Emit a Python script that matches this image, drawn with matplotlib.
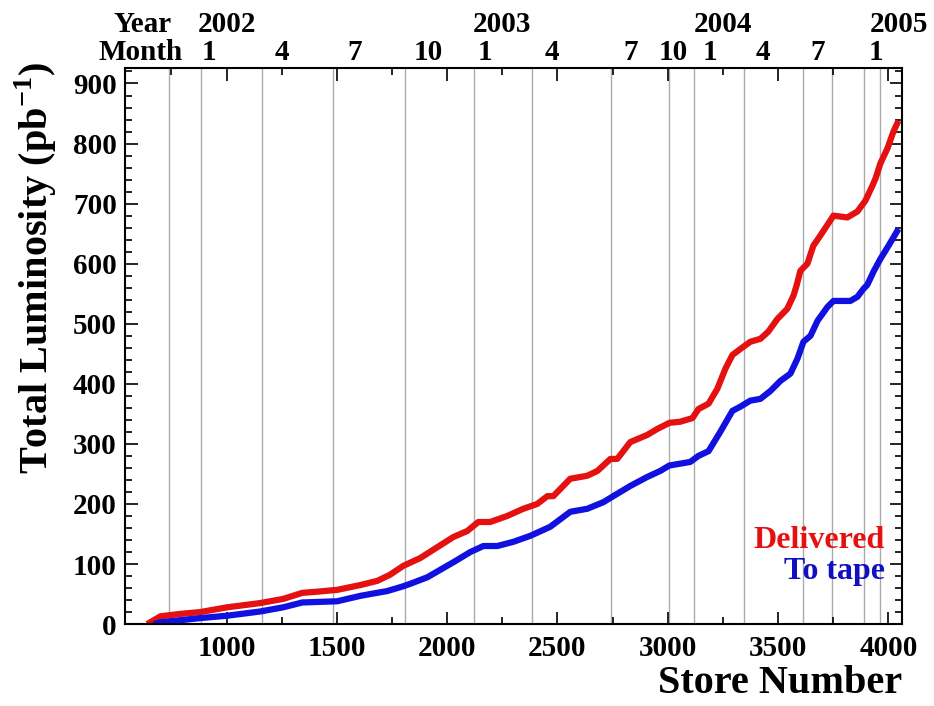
import numpy as np
import matplotlib.pyplot as plt
from matplotlib.transforms import blended_transform_factory
from matplotlib.ticker import MultipleLocator

plt.rcParams['font.family'] = ['Liberation Serif', 'DejaVu Serif']
plt.rcParams['font.weight'] = 'bold'
plt.rcParams['mathtext.fontset'] = 'custom'
plt.rcParams['mathtext.bf'] = 'Liberation Serif:bold'
plt.rcParams['mathtext.rm'] = 'Liberation Serif:bold'

# delivered luminosity
store_del = [640, 700, 790, 880, 1003, 1152, 1257, 1343, 1411, 1501, 1606, 1683, 1740, 1801,
             1878, 1955, 2028, 2091, 2141, 2195, 2272, 2345, 2408, 2454, 2481, 2558, 2635,
             2681, 2740, 2771, 2830, 2907, 2953, 3007, 3057, 3112, 3139, 3185, 3225, 3261,
             3293, 3329, 3374, 3420, 3456, 3497, 3542, 3570, 3585, 3601, 3633, 3660, 3692,
             3728, 3751, 3814, 3860, 3896, 3928, 3942, 3964, 3996, 4023, 4046]
lumi_del = [0, 13, 17, 20, 28, 35, 42, 52, 54, 57, 65, 72, 82, 97,
            110, 128, 145, 155, 170, 170, 180, 192, 200, 213, 213, 242, 247,
            255, 275, 275, 303, 315, 325, 335, 337, 343, 358, 367, 392, 425,
            448, 458, 470, 475, 487, 508, 525, 547, 565, 588, 600, 630, 647,
            667, 680, 677, 687, 705, 730, 742, 767, 792, 820, 838]

# luminosity to tape
store_tape = [670, 700, 880, 1003, 1152, 1257, 1343, 1501, 1606, 1651, 1728, 1801, 1832, 1910,
              2028, 2105, 2164, 2227, 2300, 2377, 2467, 2558, 2635, 2708, 2753, 2830, 2907,
              2966, 3007, 3102, 3139, 3185, 3238, 3293, 3329, 3374, 3420, 3465, 3511, 3556,
              3588, 3615, 3647, 3679, 3724, 3751, 3828, 3860, 3887, 3905, 3933, 3964, 4001, 4046]
lumi_tape = [0, 3, 10, 14, 21, 28, 36, 38, 47, 50, 55, 63, 67, 78,
             103, 120, 130, 130, 137, 147, 162, 187, 192, 203, 213, 230, 245,
             255, 264, 270, 280, 288, 320, 355, 362, 372, 375, 388, 405, 417,
             442, 470, 480, 505, 528, 538, 538, 545, 558, 565, 587, 608, 630, 658]

# grid lines and calendar labels on top
grid_stores = [740, 885, 1161, 1483, 1810, 2123, 2386, 2744, 3007, 3120, 3347, 3615, 3746, 3891, 3964]
month_pos = [922, 1252, 1579, 1914, 2173, 2476, 2830, 3025, 3193, 3433, 3678, 3946]
month_lab = ['1', '4', '7', '10', '1', '4', '7', '10', '1', '4', '7', '1']
year_pos = [1003, 2250, 3252, 4049]
year_lab = ['2002', '2003', '2004', '2005']

fig = plt.figure(figsize=(9.34, 7.06), dpi=100)
ax = fig.add_axes([0.134, 0.116, 0.832, 0.787])

for g in grid_stores:
    ax.axvline(g, color='#aaaaaa', lw=1, zorder=0)

ax.plot(store_del, lumi_del, color='#e51010', lw=4.5, solid_capstyle='butt')
ax.plot(store_tape, lumi_tape, color='#1010e0', lw=4.5, solid_capstyle='butt')

ax.set_xlim(540, 4063)
ax.set_ylim(0, 925)
ax.xaxis.set_major_locator(MultipleLocator(500))
ax.xaxis.set_minor_locator(MultipleLocator(250))
ax.yaxis.set_major_locator(MultipleLocator(100))
ax.yaxis.set_minor_locator(MultipleLocator(20))
ax.tick_params(which='both', direction='in', top=True, right=True, labelsize=21, width=1.2)
ax.tick_params(which='major', length=9)
ax.tick_params(which='minor', length=5)
ax.tick_params(axis='x', pad=8)
ax.tick_params(axis='y', pad=6)
ax.set_xticks([1000, 1500, 2000, 2500, 3000, 3500, 4000])
for sp in ax.spines.values():
    sp.set_linewidth(1.5)

tr = blended_transform_factory(ax.transData, fig.transFigure)
for p, l in zip(month_pos, month_lab):
    ax.text(p, 0.926, l, transform=tr, ha='center', va='center', fontsize=21)
for p, l in zip(year_pos, year_lab):
    ax.text(p, 0.966, l, transform=tr, ha='center', va='center', fontsize=21)
fig.text(0.184, 0.966, 'Year', ha='right', va='center', fontsize=21)
fig.text(0.196, 0.926, 'Month', ha='right', va='center', fontsize=21)

fig.text(0.038, 0.62, 'Total Luminosity (pb$^{\\mathbf{-1}}$)', rotation=90,
         ha='center', va='center', fontsize=29)
fig.text(0.966, 0.032, 'Store Number', ha='right', va='center', fontsize=29)

ax.text(0.978, 0.15, 'Delivered', transform=ax.transAxes, ha='right', va='center',
        fontsize=23, color='#e51010')
ax.text(0.978, 0.095, 'To tape', transform=ax.transAxes, ha='right', va='center',
        fontsize=23, color='#1010c0')

plt.savefig('out.png', dpi=100)
